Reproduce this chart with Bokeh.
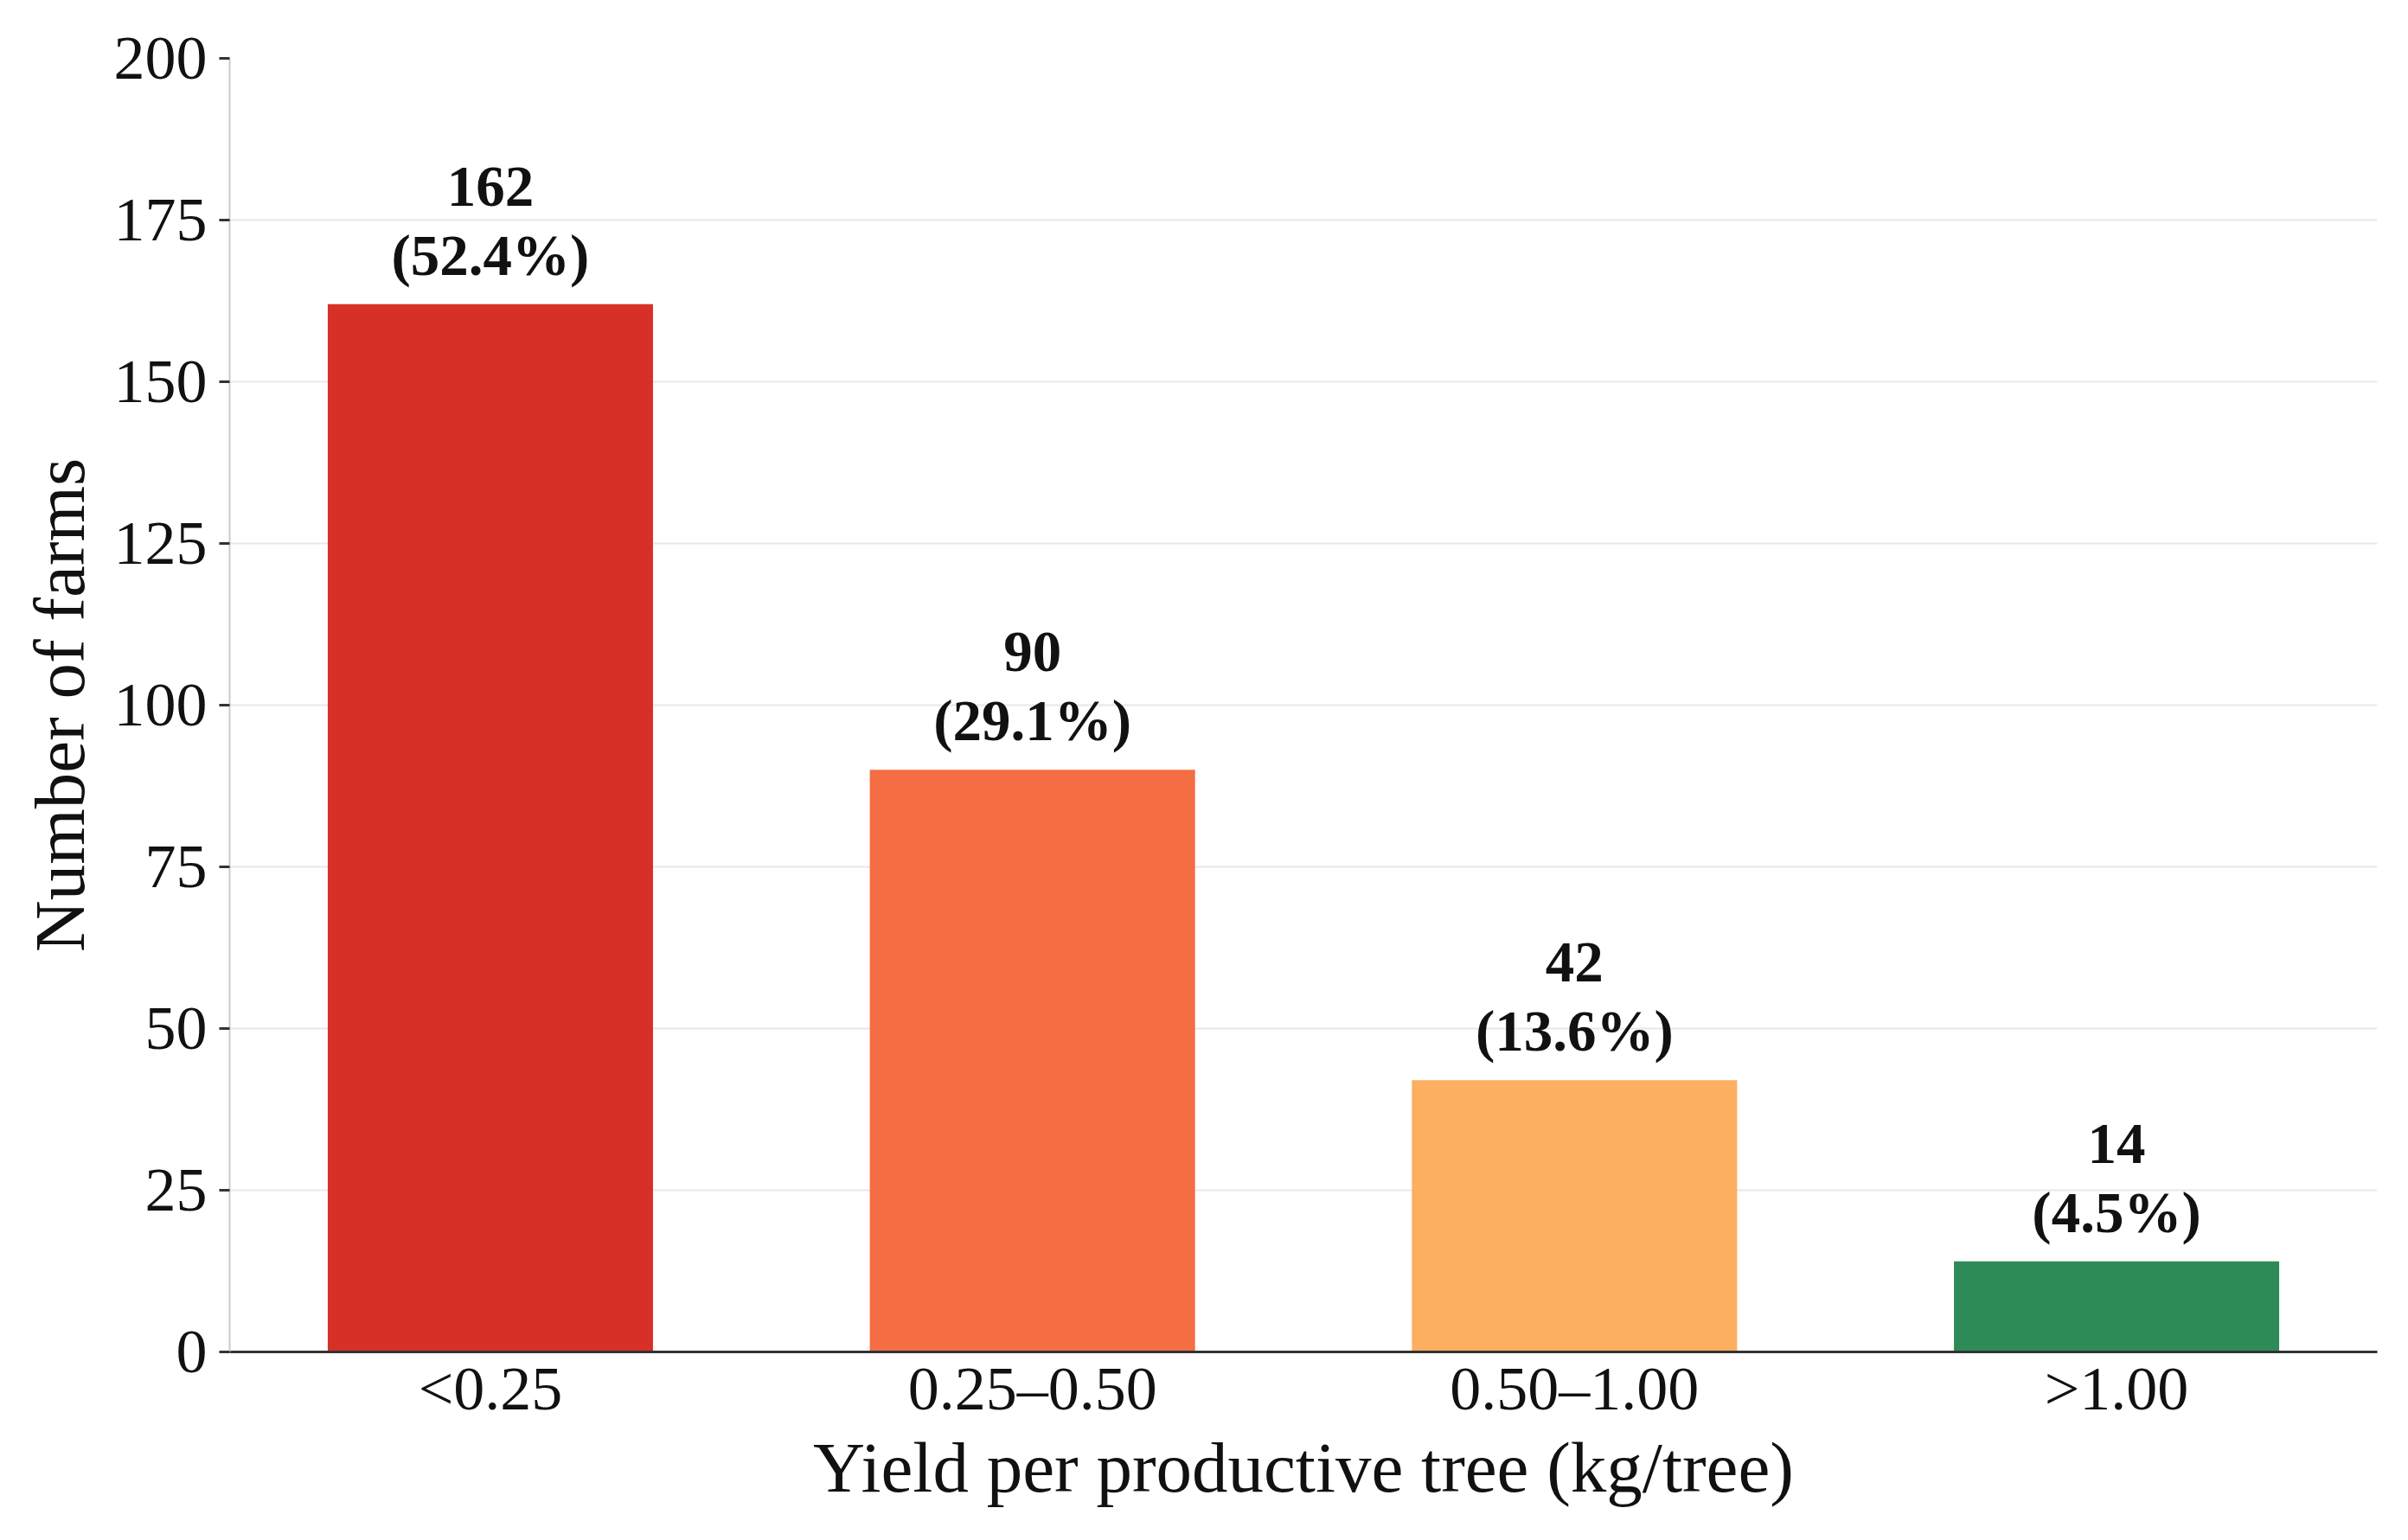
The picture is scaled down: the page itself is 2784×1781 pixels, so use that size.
from bokeh.plotting import figure
from bokeh.models import ColumnDataSource, FactorRange, Range1d, LabelSet, FixedTicker
from bokeh.embed import file_html
from bokeh.resources import INLINE

categories = ["<0.25", "0.25–0.50", "0.50–1.00", ">1.00"]
farms = [162, 90, 42, 14]
count_labels = ["162", "90", "42", "14"]
percent_labels = ["(52.4%)", "(29.1%)", "(13.6%)", "(4.5%)"]
colors = ["#d73027", "#f46d43", "#fdae61", "#2e8b57"]
y_ticks = [0, 25, 50, 75, 100, 125, 150, 175, 200]

FONT = "Liberation Serif"

src = ColumnDataSource(dict(cat=categories, farms=farms, cnt=count_labels,
                            pct=percent_labels, color=colors))

p = figure(width=2784, height=1781,
           x_range=FactorRange(factors=categories, range_padding=-0.0095),
           y_range=Range1d(0, 200),
           output_backend="svg", toolbar_location=None,
           min_border_left=265, min_border_right=36,
           min_border_top=67, min_border_bottom=218)

p.vbar(x="cat", top="farms", width=0.6, color="color", line_color=None, source=src)

lab_cnt = LabelSet(x="cat", y="farms", text="cnt", source=src, y_offset=114,
                   text_align="center", text_baseline="alphabetic",
                   text_font=FONT, text_font_style="bold", text_font_size="67px",
                   text_color="#111111")
lab_pct = LabelSet(x="cat", y="farms", text="pct", source=src, y_offset=34,
                   text_align="center", text_baseline="alphabetic",
                   text_font=FONT, text_font_style="bold", text_font_size="67px",
                   text_color="#111111")
p.add_layout(lab_cnt)
p.add_layout(lab_pct)

p.outline_line_color = None
p.background_fill_color = "white"
p.border_fill_color = "white"

p.xgrid.grid_line_color = None
p.ygrid.grid_line_color = "#e8e8e8"
p.ygrid.grid_line_width = 2

p.yaxis.ticker = FixedTicker(ticks=y_ticks)
p.yaxis.minor_tick_line_color = None
p.yaxis.major_tick_out = 12
p.yaxis.major_tick_in = 0
p.yaxis.major_tick_line_color = "#333333"
p.yaxis.major_tick_line_width = 3
p.yaxis.axis_line_color = "#cccccc"
p.yaxis.axis_line_width = 2
p.yaxis.major_label_standoff = 14
p.yaxis.major_label_text_font = FONT
p.yaxis.major_label_text_font_size = "72px"
p.yaxis.major_label_text_color = "#111111"
p.yaxis.axis_label = "Number of farms"
p.yaxis.axis_label_text_font = FONT
p.yaxis.axis_label_text_font_style = "normal"
p.yaxis.axis_label_text_font_size = "83px"
p.yaxis.axis_label_text_color = "#111111"
p.yaxis.axis_label_standoff = 14

p.xaxis.major_tick_line_color = None
p.xaxis.minor_tick_line_color = None
p.xaxis.major_tick_out = 0
p.xaxis.major_tick_in = 0
p.xaxis.axis_line_color = "#333333"
p.xaxis.axis_line_width = 3
p.xaxis.major_label_standoff = 2
p.xaxis.major_label_text_font = FONT
p.xaxis.major_label_text_font_size = "72px"
p.xaxis.major_label_text_color = "#111111"
p.xaxis.axis_label = "Yield per productive tree (kg/tree)"
p.xaxis.axis_label_text_font = FONT
p.xaxis.axis_label_text_font_style = "normal"
p.xaxis.axis_label_text_font_size = "83px"
p.xaxis.axis_label_text_color = "#111111"
p.xaxis.axis_label_standoff = 2

open("out.html", "w").write(file_html(p, INLINE))
